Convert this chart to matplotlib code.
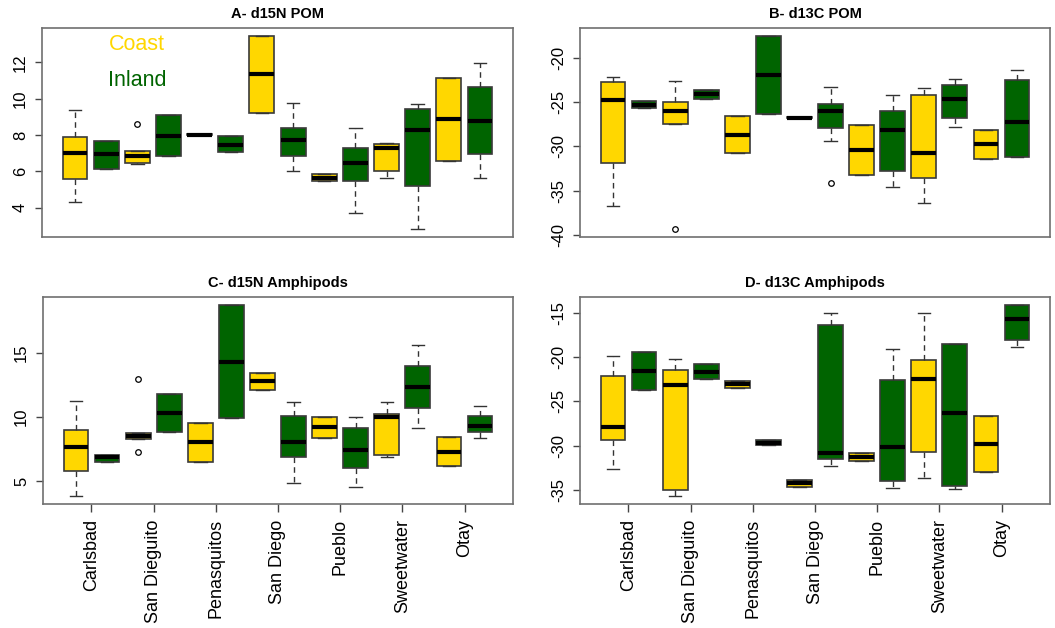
import matplotlib
matplotlib.use("Agg")
import matplotlib.pyplot as plt

plt.rcParams['font.family'] = ['Liberation Sans', 'DejaVu Sans']

sites = ["Carlsbad", "San Dieguito", "Penasquitos", "San Diego", "Pueblo", "Sweetwater", "Otay"]
habitats = ["Coast", "Inland"]
habitat_colors = {"Coast": "#FFD700", "Inland": "#006400"}

# Box summaries per site, Coast then Inland:
# (lower whisker, Q1, median, Q3, upper whisker)
d15n_pom = [
    (4.33, 5.59, 7.00, 7.91, 9.36), (6.14, 6.14, 6.95, 7.69, 7.69),
    (6.41, 6.47, 6.86, 7.12, 7.12), (6.84, 6.84, 7.94, 9.09, 9.09),
    (7.98, 7.98, 8.02, 8.06, 8.06), (7.06, 7.06, 7.48, 7.94, 7.94),
    (9.23, 9.23, 11.35, 13.47, 13.47), (6.05, 6.84, 7.74, 8.41, 9.77),
    (5.46, 5.46, 5.62, 5.86, 5.86), (3.71, 5.46, 6.47, 7.30, 8.42),
    (5.62, 6.05, 7.30, 7.52, 7.57), (2.82, 5.18, 8.31, 9.42, 9.73),
    (6.58, 6.58, 8.90, 11.17, 11.17), (5.62, 6.95, 8.77, 10.65, 11.98),
]
d15n_pom_outliers = {2: [8.63]}

d13c_pom = [
    (-36.74, -31.91, -24.81, -22.77, -22.17), (-25.68, -25.68, -25.30, -24.92, -24.92),
    (-27.49, -27.49, -25.98, -25.04, -22.66), (-24.62, -24.62, -24.09, -23.64, -23.64),
    (-30.70, -30.70, -28.70, -26.62, -26.62), (-26.32, -26.32, -21.91, -17.49, -17.49),
    (-26.82, -26.82, -26.74, -26.66, -26.66), (-29.45, -27.91, -25.98, -25.23, -23.30),
    (-33.26, -33.26, -30.40, -27.64, -27.64), (-34.58, -32.74, -28.13, -25.98, -24.17),
    (-36.36, -33.60, -30.81, -24.17, -23.42), (-27.83, -26.85, -24.66, -23.04, -22.36),
    (-31.38, -31.38, -29.75, -28.13, -28.13), (-31.23, -31.15, -27.26, -22.47, -21.38),
]
d13c_pom_outliers = {2: [-39.38], 7: [-34.13]}

d15n_amph = [
    (3.83, 5.80, 7.67, 8.99, 11.27), (6.48, 6.48, 6.87, 7.07, 7.07),
    (8.26, 8.26, 8.52, 8.76, 8.76), (8.81, 8.81, 10.31, 11.84, 11.84),
    (6.48, 6.48, 8.03, 9.56, 9.56), (9.92, 9.92, 14.33, 18.76, 18.76),
    (12.15, 12.15, 12.82, 13.47, 13.47), (4.84, 6.92, 8.03, 10.10, 11.19),
    (8.34, 8.34, 9.20, 10.00, 10.00), (4.59, 6.01, 7.44, 9.12, 10.00),
    (6.87, 7.05, 10.00, 10.28, 11.19), (9.12, 10.73, 12.36, 13.99, 15.62),
    (6.17, 6.17, 7.31, 8.47, 8.47), (8.39, 8.81, 9.30, 10.08, 10.88),
]
d15n_amph_outliers = {2: [12.95, 7.31]}

d13c_amph = [
    (-32.68, -29.33, -27.86, -22.10, -19.84), (-23.68, -23.68, -21.57, -19.43, -19.43),
    (-35.73, -35.02, -23.15, -21.46, -20.22), (-22.51, -22.51, -21.65, -20.74, -20.74),
    (-23.53, -23.53, -23.04, -22.74, -22.74), (-29.97, -29.97, -29.71, -29.37, -29.37),
    (-34.64, -34.64, -34.23, -33.89, -33.89), (-32.34, -31.48, -30.88, -16.34, -14.98),
    (-31.78, -31.78, -31.25, -30.80, -30.80), (-34.83, -33.96, -30.20, -22.63, -19.12),
    (-33.70, -30.76, -22.51, -20.33, -15.02), (-34.94, -34.57, -26.36, -18.48, -18.48),
    (-32.98, -32.98, -29.82, -26.69, -26.69), (-18.86, -18.11, -15.66, -14.08, -14.08),
]
d13c_amph_outliers = {}

panel_titles = ["A- d15N POM", "B- d13C POM", "C- d15N Amphipods", "D- d13C Amphipods"]
panel_yticks = [[4, 6, 8, 10, 12], [-40, -35, -30, -25, -20], [5, 10, 15], [-35, -30, -25, -20, -15]]

FRAME = "#707070"
EDGE = "#3a3a3a"

fig = plt.figure(figsize=(10.55, 6.28), dpi=100)
W, H = 1055, 628
rects = [(42, 28, 513, 237), (580, 28, 1050, 237), (43, 297, 513, 504), (580, 297, 1050, 504)]
axes = []
for (l, t, r, b) in rects:
    axes.append(fig.add_axes([l / W, 1 - b / H, (r - l) / W, (b - t) / H]))

panels = [
    (d15n_pom, d15n_pom_outliers),
    (d13c_pom, d13c_pom_outliers),
    (d15n_amph, d15n_amph_outliers),
    (d13c_amph, d13c_amph_outliers),
]

n_boxes = len(sites) * len(habitats)
positions = list(range(1, n_boxes + 1))

for k, (ax, (summ, outl)) in enumerate(zip(axes, panels)):
    stats = []
    for i, (lo, q1, med, q3, hi) in enumerate(summ):
        stats.append(dict(whislo=lo, q1=q1, med=med, q3=q3, whishi=hi,
                          fliers=outl.get(i, [])))
    res = ax.bxp(stats, positions=positions, widths=0.8, capwidths=0.4,
                 patch_artist=True, showfliers=True,
                 boxprops=dict(edgecolor=EDGE, linewidth=1.2),
                 medianprops=dict(color="black", linewidth=3, solid_capstyle="butt"),
                 whiskerprops=dict(color="#333333", linewidth=1.0, linestyle=(0, (4, 3))),
                 capprops=dict(color="#333333", linewidth=1.0),
                 flierprops=dict(marker="o", markersize=4, markerfacecolor="none",
                                 markeredgecolor="black", markeredgewidth=0.9))
    for i, patch in enumerate(res["boxes"]):
        patch.set_facecolor(habitat_colors[habitats[i % 2]])

    lows = [s[0] for s in summ] + [v for vals in outl.values() for v in vals]
    highs = [s[4] for s in summ] + [v for vals in outl.values() for v in vals]
    ymin, ymax = min(lows), max(highs)
    span = ymax - ymin
    ax.set_ylim(ymin - 0.04 * span, ymax + 0.04 * span)
    xspan = n_boxes
    ax.set_xlim(0.5 - 0.04 * xspan, n_boxes + 0.5 + 0.04 * xspan)

    ax.set_yticks(panel_yticks[k])
    ax.set_yticklabels([str(v) for v in panel_yticks[k]])
    ax.tick_params(axis="y", length=5, width=1, color="#444444", pad=5,
                   labelsize=12, labelrotation=90)
    for lbl in ax.get_yticklabels():
        lbl.set_va("center")

    if k >= 2:
        ax.set_xticks([p + 0.5 for p in positions[::2]])
        ax.set_xticklabels(sites, rotation=90, fontsize=13)
        ax.tick_params(axis="x", length=6, width=1, color="#444444", pad=5)
    else:
        ax.set_xticks([])

    for sp in ax.spines.values():
        sp.set_color(FRAME)
        sp.set_linewidth(1.2)

    ax.set_title(panel_titles[k], fontsize=10.5, fontweight="bold", pad=7)

axes[0].text(3, 13, habitats[0], color=habitat_colors["Coast"], fontsize=15.5,
             ha="center", va="center")
axes[0].text(3, 11, habitats[1], color=habitat_colors["Inland"], fontsize=15.5,
             ha="center", va="center")

fig.savefig("out.png", dpi=100)
